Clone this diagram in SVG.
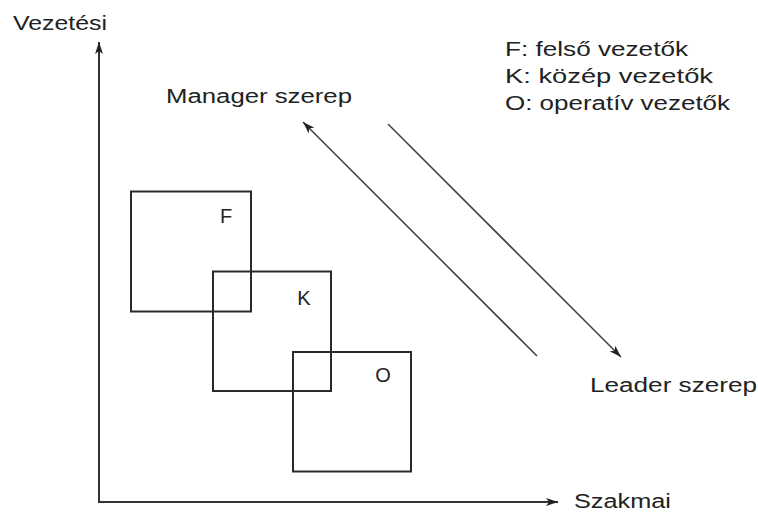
<svg xmlns="http://www.w3.org/2000/svg" width="758" height="514" viewBox="0 0 758 514">
<style>
text{font-family:"Liberation Sans",Arial,sans-serif;font-size:20px;fill:#222}
.box{fill:none;stroke:#2a2a2a;stroke-width:2}
.axis{stroke:#333;stroke-width:2;fill:none}
.diag{stroke:#444;stroke-width:1.6;fill:none}
</style>
<defs>
<marker id="ah" viewBox="0 0 12 8" refX="12" refY="4" markerWidth="12" markerHeight="8" markerUnits="userSpaceOnUse" orient="auto">
<path d="M0,0 L12,4 L0,8 L3,4 Z" fill="#222"/>
</marker>
</defs>
<rect width="758" height="514" fill="#fff"/>
<g id="connectors">
<path class="axis" d="M99,503 V42" marker-end="url(#ah)"/>
<path class="axis" d="M99,502 H558" marker-end="url(#ah)"/>
<path class="diag" d="M537,356 L303,122" marker-end="url(#ah)"/>
<path class="diag" d="M388,124 L621,357" marker-end="url(#ah)"/>
</g>
<g id="axis-y-label"><text x="13" y="30" textLength="94" lengthAdjust="spacingAndGlyphs">Vezetési</text></g>
<g id="axis-x-label"><text x="574" y="508" textLength="97" lengthAdjust="spacingAndGlyphs">Szakmai</text></g>
<g id="manager"><text x="166" y="103" textLength="186" lengthAdjust="spacingAndGlyphs">Manager szerep</text></g>
<g id="leader"><text x="590" y="392" textLength="167" lengthAdjust="spacingAndGlyphs">Leader szerep</text></g>
<g id="legend">
<text x="505" y="56" textLength="183" lengthAdjust="spacingAndGlyphs">F: felső vezetők</text>
<text x="505" y="83" textLength="208" lengthAdjust="spacingAndGlyphs">K: közép vezetők</text>
<text x="505" y="110" textLength="225" lengthAdjust="spacingAndGlyphs">O: operatív vezetők</text>
</g>
<g id="F"><rect class="box" x="131" y="191.5" width="120" height="120"/><text x="226" y="223" text-anchor="middle">F</text></g>
<g id="K"><rect class="box" x="213" y="271.5" width="118" height="119.5"/><text x="304" y="305" text-anchor="middle">K</text></g>
<g id="O"><rect class="box" x="293" y="352" width="118" height="119.5"/><text x="383" y="382" text-anchor="middle">O</text></g>
</svg>
